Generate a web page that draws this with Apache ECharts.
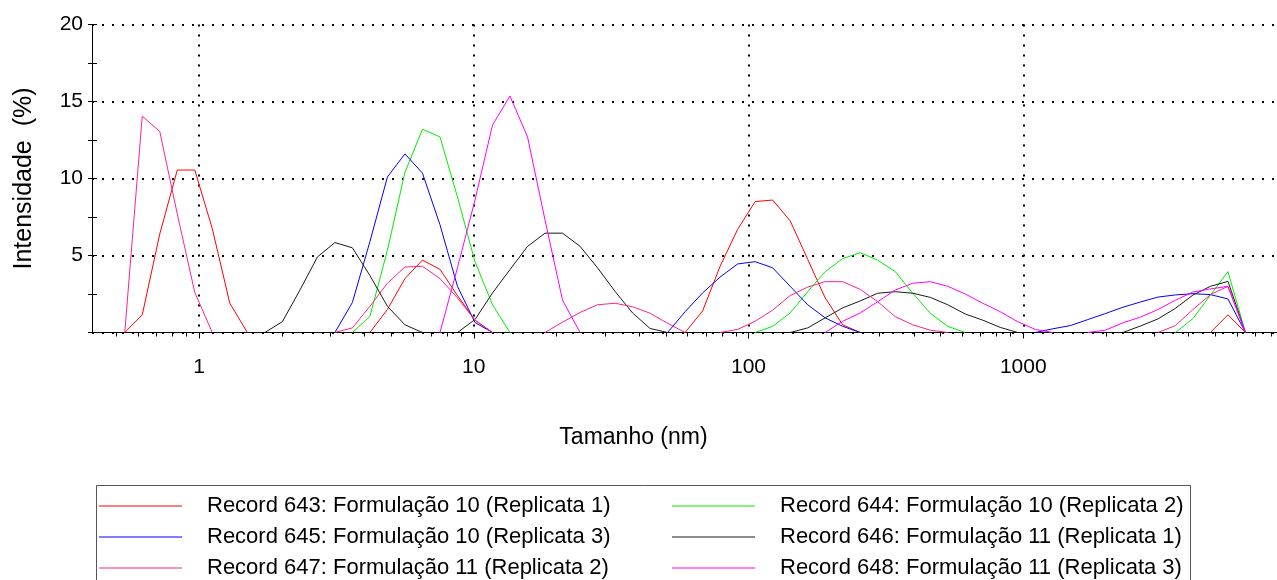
<!DOCTYPE html>
<html><head><meta charset="utf-8">
<script src="https://cdn.jsdelivr.net/npm/echarts@6/dist/echarts.min.js"></script>
<style>html,body{margin:0;padding:0;background:#fff}#c{width:1277px;height:580px}</style>
</head><body><div id="c"></div>
<script>
const N = null;
// Size bins (nm)
const sizes = [0.4,0.4632,0.5365,0.6213,0.7195,0.8332,0.9649,1.117,1.294,1.499,
 1.736,2.010,2.328,2.696,3.122,3.615,4.187,4.849,5.615,6.503,
 7.531,8.721,10.10,11.70,13.54,15.69,18.17,21.04,24.36,28.21,
 32.67,37.84,43.82,50.75,58.77,68.06,78.82,91.28,105.7,122.4,
 141.8,164.2,190.1,220.2,255.0,295.3,342.0,396.1,458.7,531.2,
 615.1,712.4,825.0,955.4,1106,1281,1484,1718,1990,2305,
 2669,3091,3580,4145,4801,5560,6439,7456,8635,10000];

const names = [
 'Record 643: Formulação 10 (Replicata 1)',
 'Record 644: Formulação 10 (Replicata 2)',
 'Record 645: Formulação 10 (Replicata 3)',
 'Record 646: Formulação 11 (Replicata 1)',
 'Record 647: Formulação 11 (Replicata 2)',
 'Record 648: Formulação 11 (Replicata 3)'
];

const rec643 = [N,N,0,1.15,6.4,10.55,10.55,6.75,1.9,0,
 N,N,N,N,N,N,0,1.5,3.5,4.7,
 4.1,2.4,0.8,0,N,N,N,N,N,N,
 N,N,N,N,0,1.4,4.3,6.7,8.5,8.6,
 7.25,4.75,2.25,0.5,0,N,N,N,N,N,
 N,N,N,N,N,N,N,N,N,N,
 N,N,N,N,0,1.15,0,N,N,N];
const rec644 = [N,N,N,N,N,N,N,N,N,N,
 N,N,N,N,N,0,1.05,5.35,10.4,13.2,
 12.7,8.8,4.6,1.8,0,N,N,N,N,N,
 N,N,N,N,N,N,N,N,0,0.4,
 1.27,2.65,3.95,4.8,5.18,4.7,3.95,2.55,1.25,0.4,
 0,N,N,N,N,N,N,N,N,N,
 N,N,0,0.9,2.43,3.95,0,N,N,N];
const rec645 = [N,N,N,N,N,N,N,N,N,N,
 N,N,N,N,0,1.95,5.9,10.1,11.6,10.35,
 7.0,3.0,0.65,0,N,N,N,N,N,N,
 N,N,N,0,1.35,2.57,3.6,4.45,4.6,4.2,
 3.0,1.8,0.95,0.4,0,N,N,N,N,N,
 N,N,N,N,0,0.24,0.45,0.84,1.23,1.64,
 1.98,2.3,2.44,2.52,2.46,2.18,0,N,N,N];
const rec646 = [N,N,N,N,N,N,N,N,N,N,
 0,0.7,2.75,4.9,5.84,5.5,3.7,1.7,0.5,0,
 N,0,0.84,2.57,4.08,5.59,6.45,6.45,5.6,4.2,
 2.67,1.27,0.26,0,N,N,N,N,N,N,
 0,0.3,0.95,1.6,2.05,2.55,2.65,2.55,2.28,1.8,
 1.2,0.8,0.33,0,N,N,N,N,N,0,
 0.42,0.88,1.57,2.43,3.0,3.32,0,N,N,N];
const rec647 = [N,N,0,14.05,13.05,7.7,2.6,0,N,N,
 N,N,N,N,0,0.3,1.7,3.2,4.25,4.3,
 3.5,2.25,0.8,0,N,N,0,0.67,1.3,1.8,
 1.9,1.67,1.25,0.6,0,N,0,0.2,0.73,1.45,
 2.4,2.95,3.3,3.3,2.8,2.0,1.03,0.5,0.15,0,
 N,N,N,N,N,N,N,N,N,N,
 N,0,0.45,1.49,2.46,3.0,0,N,N,N];
const rec648 = [N,N,N,N,N,N,N,N,N,N,
 N,N,N,N,N,N,N,N,N,N,
 0,4.2,8.6,13.47,15.36,12.7,7.3,2.1,0,N,
 N,N,N,N,N,N,N,N,N,N,
 N,N,0,0.73,1.27,2.0,2.76,3.2,3.3,3.0,
 2.5,1.9,1.35,0.7,0.2,0,N,0,0.15,0.63,
 1.0,1.49,2.1,2.63,2.83,3.0,0,N,N,N];

const allValues = [rec643, rec644, rec645, rec646, rec647, rec648];
const colors = ['#ff0000','#00ee00','#0000ff','#1a1a1a','#ff2090','#ff00ff'];

const majorTicks = [1,10,100,1000];
const minorTicks = [0.5,0.6,0.7,0.8,0.9,
 2,3,4,5,6,7,8,9,
 20,30,40,50,60,70,80,90,
 200,300,400,500,600,700,800,900,
 2000,3000,4000,5000,6000,7000,8000];
const yTicks = [0,5,10,15,20];

const FONT = '"Liberation Sans", Arial, sans-serif';
const dotted = {color:'#000', width:2, type:[2,8]};
const xMin = 0.4077, xMax = 8387;

const legendBase = {
  orient:'vertical', top:495, padding:0,
  icon:'rect', itemWidth:83, itemHeight:1, itemGap:9,
  textStyle:{fontFamily:FONT, fontSize:22, color:'#000', lineHeight:22, padding:[0,0,0,20]}
};

const chart = echarts.init(document.getElementById('c'), null, {renderer:'canvas'});
const option = {
  animation: false,
  backgroundColor: '#fff',
  grid: {left:92, top:24.5, width:1185, height:308, containLabel:false},
  xAxis: [{
    type:'log', logBase:10, min:xMin, max:xMax, position:'bottom',
    name:'Tamanho (nm)', nameLocation:'middle', nameGap:94,
    nameTextStyle:{fontFamily:FONT, fontSize:23, color:'#000', padding:[0,102,0,0]},
    axisLine:{show:true, onZero:false, lineStyle:{color:'#000', width:1}},
    axisTick:{show:true, length:6, customValues:majorTicks, lineStyle:{color:'#000'}},
    axisLabel:{customValues:majorTicks, margin:24, fontFamily:FONT, fontSize:21, color:'#000',
      formatter:function(v){return String(Math.round(v));}},
    splitLine:{show:true, lineStyle:dotted},
    minorTick:{show:false}, minorSplitLine:{show:false}
  },{
    type:'log', logBase:10, min:xMin, max:xMax, position:'bottom',
    axisLine:{show:false},
    axisTick:{show:true, length:4, customValues:minorTicks, lineStyle:{color:'#000'}},
    axisLabel:{show:false},
    splitLine:{show:false}
  }],
  yAxis: [{
    type:'value', min:yTicks[0], max:yTicks[yTicks.length-1], interval:5, position:'left',
    name:'Intensidade  (%)', nameLocation:'middle', nameGap:55,
    nameTextStyle:{fontFamily:FONT, fontSize:25, color:'#000'},
    axisLine:{show:true, lineStyle:{color:'#000', width:1}},
    axisTick:{show:true, length:4, lineStyle:{color:'#000'}},
    minorTick:{show:true, splitNumber:2, length:4, lineStyle:{color:'#000'}},
    axisLabel:{showMinLabel:false, margin:9, fontFamily:FONT, fontSize:21, color:'#000'},
    splitLine:{show:true, lineStyle:dotted}
  },{
    type:'value', min:yTicks[0], max:yTicks[yTicks.length-1], interval:5, position:'left',
    axisLine:{show:false},
    axisTick:{show:true, inside:true, length:5, lineStyle:{color:'#000'}},
    minorTick:{show:true, splitNumber:2, length:5, lineStyle:{color:'#000'}},
    axisLabel:{show:false},
    splitLine:{show:false}
  }],
  legend: [
    Object.assign({}, legendBase, {data:[names[0], names[2], names[4]], left:99}),
    Object.assign({}, legendBase, {data:[names[1], names[3], names[5]], left:672})
  ],
  graphic: [{
    type:'rect', silent:true, z:-10,
    shape:{x:96.5, y:485.5, width:1094, height:140},
    style:{fill:'#fff', stroke:'#555', lineWidth:1}
  }],
  series: allValues.map(function(vals, k){
    return {
      name:names[k], type:'line', xAxisIndex:0, yAxisIndex:0,
      symbol:'none', smooth:false, connectNulls:false,
      color:colors[k],
      lineStyle:{color:colors[k], width:1},
      data: sizes.map(function(s,i){ return [s, vals[i]]; })
    };
  })
};
chart.setOption(option);
</script>
</body></html>
